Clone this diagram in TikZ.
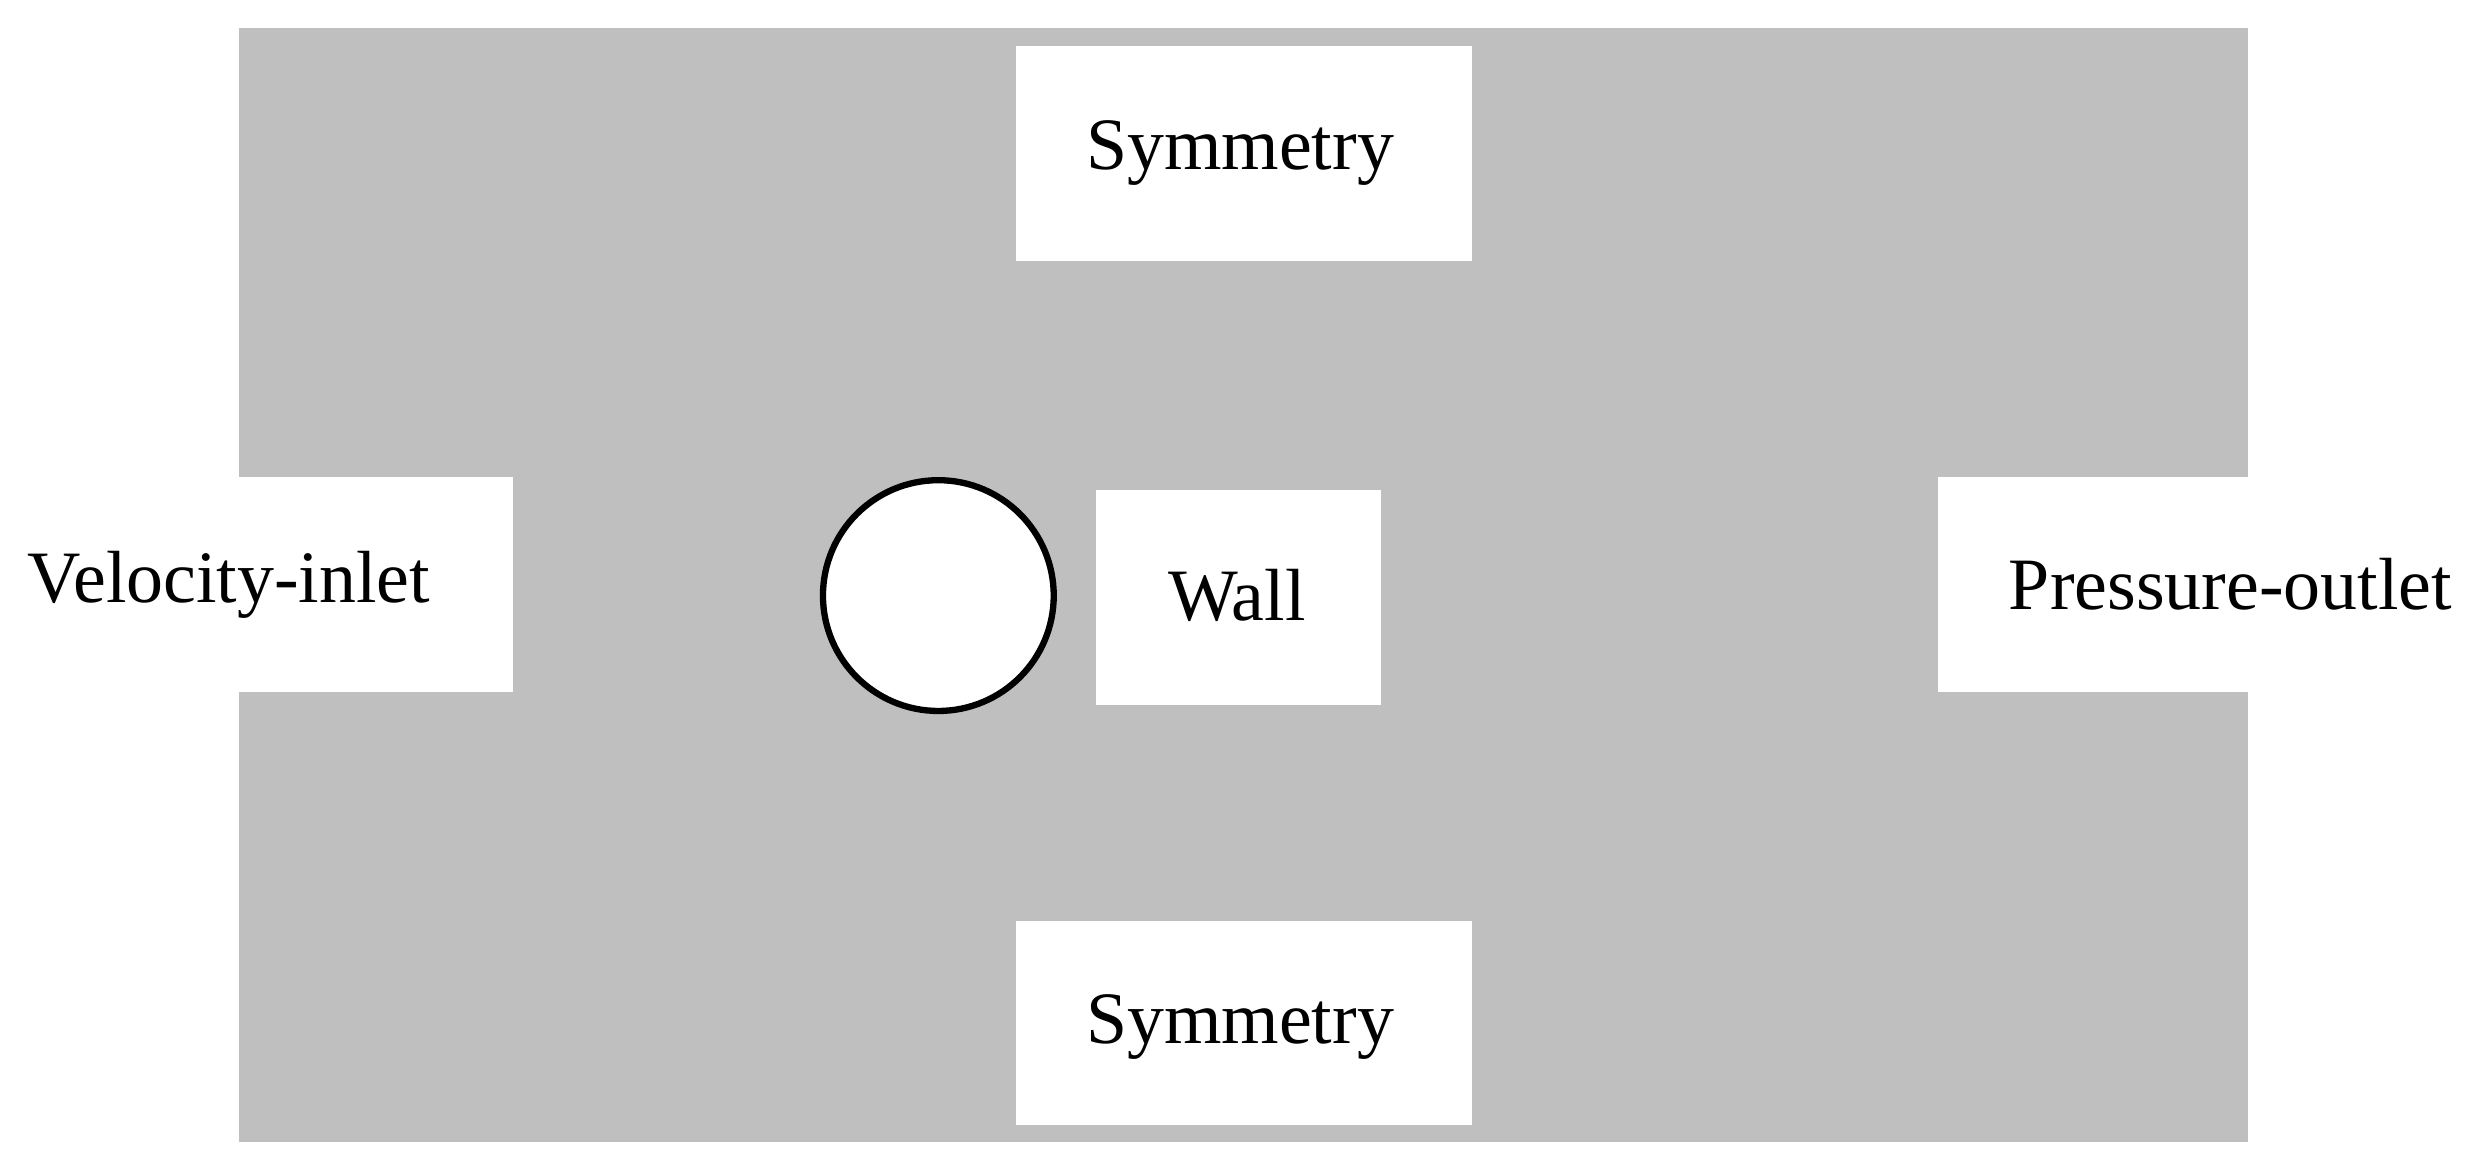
\documentclass[tikz,border=0pt]{standalone}
\usepackage{fontspec}
\setmainfont{Liberation Serif}
\begin{document}
\begin{tikzpicture}[x=0.01cm,y=-0.01cm,
  wbox/.style={fill=white,draw=none},
  lbl/.style={font=\fontsize{13.3pt}{16pt}\selectfont,inner sep=0pt}]
\useasboundingbox[fill=white] (0,0) rectangle (1568,741);
\fill[gray!50] (151,18) rectangle (1423,723);
\fill[wbox] (643,29) rectangle (932,165);
\fill[wbox] (643,583) rectangle (932,712);
\fill[wbox] (151,302) rectangle (325,438);
\fill[wbox] (1227,302) rectangle (1423,438);
\fill[wbox] (694,310) rectangle (874,446);
\node[circle,draw,fill=white,line width=0.04cm,minimum size=1.46cm,inner sep=0pt] (cyl) at (594,377) {};
\node[lbl] (top) at (785,97) {Symmetry};
\node[lbl] (bot) at (785,650) {Symmetry};
\node[lbl] (in) at (145,370) {Velocity-inlet};
\node[lbl] (out) at (1412,370) {Pressure-outlet};
\node[lbl] (wall) at (783,377) {Wall};
\end{tikzpicture}
\end{document}
